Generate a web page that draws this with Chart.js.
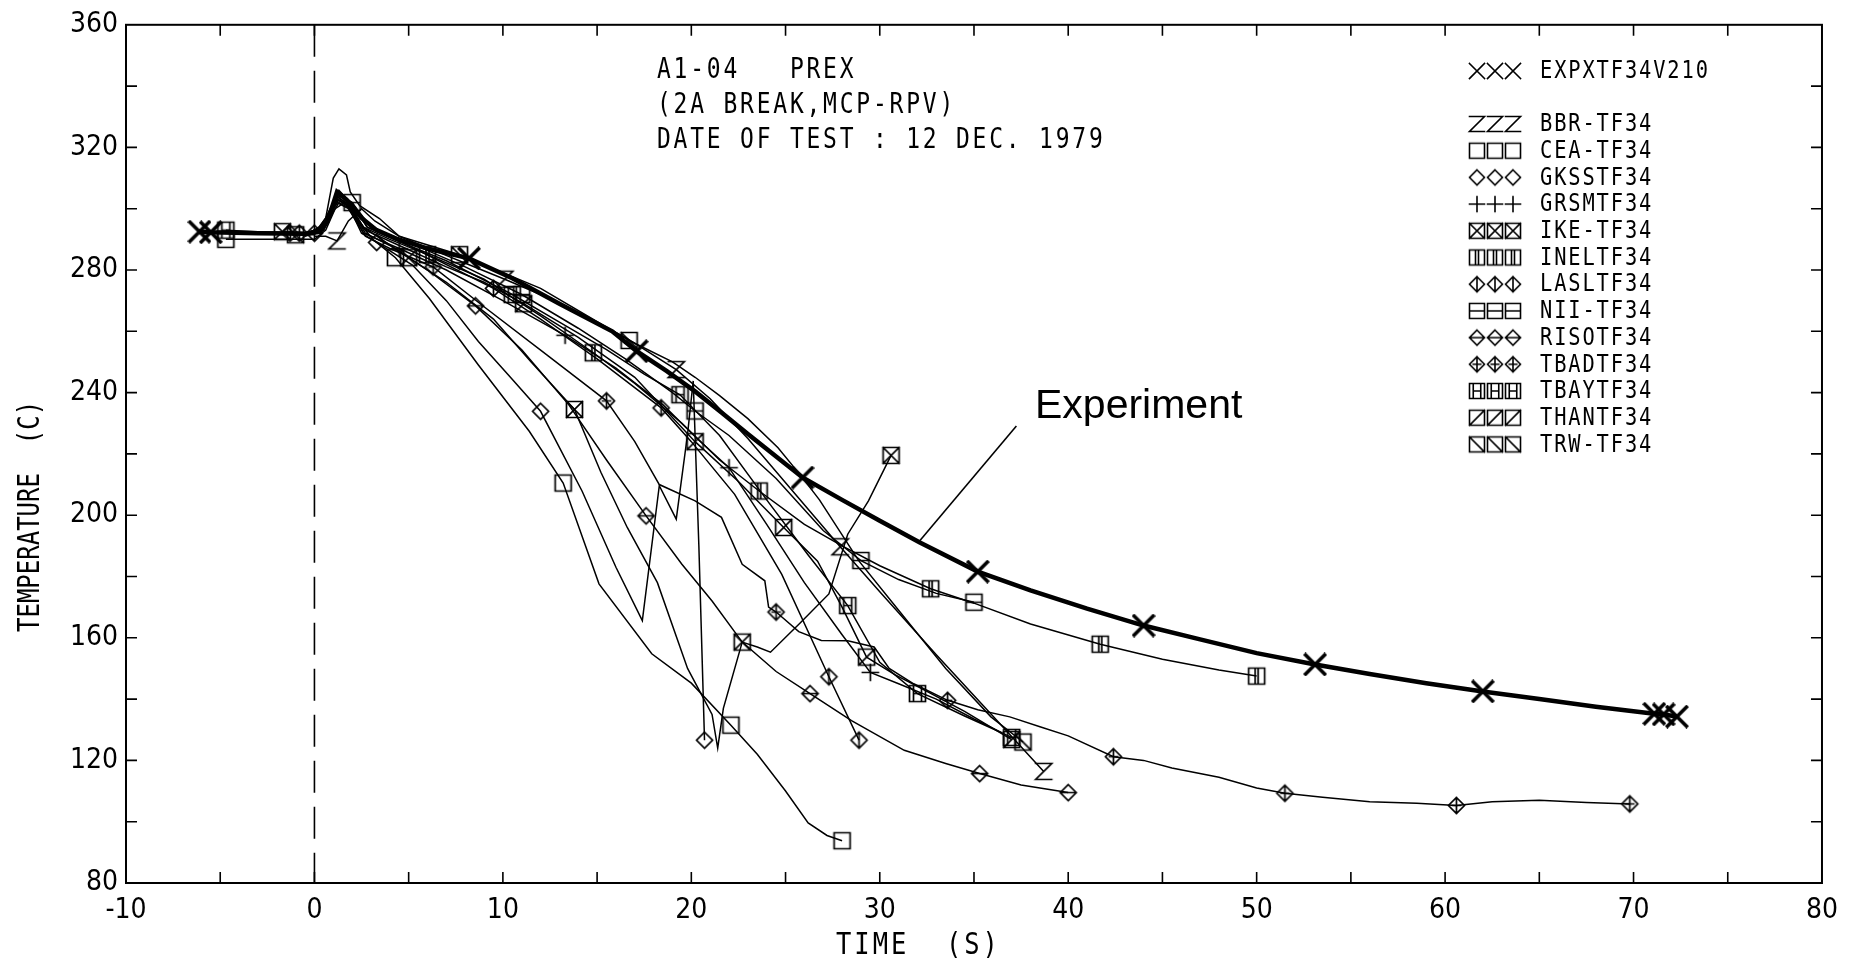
<!DOCTYPE html>
<html><head><meta charset="utf-8">
<script src="https://cdn.jsdelivr.net/npm/chart.js@4.4.1/dist/chart.umd.min.js"></script>
<style>html,body{margin:0;padding:0;background:#fff;overflow:hidden}</style>
</head><body>
<canvas id="c" width="1849" height="967"></canvas>
<script>
// ---- series: [time (s), temperature (C)] ----
const expx = [[-6.1,292.5],[-5.5,292.3],[-3,292],[-0.5,291.8],[0.3,292.5],[0.7,296],[1.2,305.5],[1.7,303],[2.5,297],[3.3,293],[4.3,290.3],[6,287],[8.2,283.8],[10.5,277.3],[13,269],[15.8,260],[17.1,253.5],[18.7,247],[20.2,240.4],[21.6,233.5],[23,226.5],[24.8,217.7],[25.9,212.3],[28,205],[30,198.2],[32.1,191.2],[35.2,181.6],[38,175.5],[41,169.5],[44,164],[47,159.5],[50,155],[53.1,151.3],[56,148.2],[59,145.2],[62,142.5],[65,140],[68,137.5],[71.1,135.2],[71.6,135],[72.3,134.3]];
const expxMarks = [-6.1,-5.5,8.2,17.1,25.9,35.2,44,53.1,62,71.1,71.6,72.3];

const bbr = [[0,291],[0.6,291],[1.2,289.5],[1.8,296],[2.5,300],[3.2,296],[4.5,291],[6.5,286],[8.5,281],[10.1,277],[12,272],[14,266],[16.5,258],[19.2,247.5],[21,238],[23,225],[25.5,207],[27.9,189.7],[30,175],[33,154.5],[36,134.5],[38.7,116.4]];
const bbrMarks = [1.2,10.1,19.2,27.9,38.7];

const cea = [[-4.7,290],[-3,290],[-1,290],[0,290],[0.6,293],[1.1,300],[1.6,302],[2.3,296],[3.1,290],[4.3,284],[6.1,270.7],[8.7,249],[11.4,227.4],[13.2,210.5],[15.1,177.6],[17.9,154.8],[20,145.2],[22.1,131.5],[23.5,122],[25,110],[26.2,99.6],[27.2,95.5],[28,93.8]];
const ceaMarks = [-4.7,4.3,13.2,22.1,28];

const gkss = [[-1.3,292],[0,292],[0.6,296],[1.2,303],[1.8,301],[2.5,292],[3.3,289],[5.2,281.6],[7,270],[8.7,256.7],[10.4,245],[12,233.9],[14.2,207.9],[16,183],[17.4,165.6],[18.3,209.6],[19.2,198.7],[19.8,226.4],[20.1,243.8],[20.4,190],[20.7,126.6]];
const gkssMarks = [-1.3,3.3,12,20.7];

const grsm = [[-0.5,292],[0.5,294],[1.2,302],[1.8,300],[2.6,292],[4.5,287],[7,280],[10,270],[13.3,258.7],[16,248],[18.5,236],[20.3,225],[22,215.5],[24,197],[26,178],[28,161],[29.5,148.7],[31,145],[33,140],[35,133.5],[36.5,129]];
const grsmMarks = [4.5,13.3,22,29.5];

const ike = [[-1.7,292.5],[0,292],[0.6,296],[1.2,304],[1.8,301],[2.6,294],[5,284],[7,276],[9.5,264],[11.5,250],[13.8,234.5],[15.2,214],[16.6,196],[18.2,178],[19.8,150],[21.1,135],[21.4,124],[21.7,137],[22.7,158.6],[23.5,157],[24.2,155.3],[25.8,165],[27.3,174.3],[28.3,193.8],[29.4,204.7],[30.6,219.5]];
const ikeMarks = [-1.7,5,13.8,22.7,30.6];

const inel = [[-0.5,291],[0.5,293],[1.2,303],[1.8,301],[2.6,294],[4,290],[6,285],[9,277],[12,265],[14.8,253],[17,243],[19.5,230],[21.5,218],[23.6,207.9],[26,197],[28,190],[30,183.5],[32.7,176],[35,171.3],[38,164.5],[41.7,157.9],[45,153],[48,149.5],[50,147.5]];
const inelMarks = [6,14.8,23.6,32.7,41.7,50];

const lasl = [[-0.8,292],[0,292],[0.6,297],[1.3,306],[1.9,302],[2.8,294],[5,288],[9.5,274],[12,264],[15,251],[18.4,235],[20,224],[22.3,206.8],[24.8,180.7],[27.3,147.3],[28.9,126.6]];
const laslMarks = [-0.8,9.5,18.4,27.3,28.9];

const nii = [[-0.3,292],[0.5,295],[1.3,304],[2,302],[3,294],[5,289],[8,281],[11,272],[14,261],[16.5,251],[19,240],[20.2,234],[22,226],[24.5,212],[27,195],[29,185.2],[31,179],[33,174.5],[35,171.6]];
const niiMarks = [2,11,20.2,29,35];

const riso = [[0,292],[0.6,295],[1.3,302],[1.9,300],[2.7,292],[4,288],[6,280],[8.55,268.3],[11,254],[13.5,236],[15.5,218],[17.6,199.8],[19.5,184],[21.1,172],[22.7,158.6],[24.5,149],[26.3,141.8],[28.5,133],[31.3,123.3],[33.5,119],[35.3,115.7],[37.5,112],[40,109.5]];
const risoMarks = [0,8.55,17.6,26.3,35.3,40];

const tbad = [[0,292],[0.6,296],[1.3,303],[1.9,300],[2.7,291],[4,287],[6.3,281],[9,268],[12.4,252],[15.5,237.3],[17,224],[18.3,210],[20.2,204.7],[21.6,199.3],[22.7,184],[23.9,178.6],[24.1,170],[24.5,168.4],[25.7,162],[26.9,159.1],[28.3,159],[29.7,157],[30.5,150],[31.8,145],[33.6,139.6],[35.2,136.5],[36.9,134.2],[38.5,131],[40,128],[42.4,121.2],[44,120],[45.5,117.5],[48,114.5],[50,111],[51.5,109.3],[53.5,108],[56,106.5],[58.5,106],[60.6,105.3],[62.5,106.5],[65,107],[67.5,106.3],[69.8,105.8]];
const tbadMarks = [6.3,15.5,24.5,33.6,42.4,51.5,60.6,69.8];

const tbay = [[-4.7,293],[-3,292.5],[-1,292.3],[0,292],[0.6,296],[1.3,305],[2,302],[2.8,294],[5,288],[7,283],[10.5,272],[13,263],[15.5,254],[17.5,246],[19.4,239.3],[21.5,226],[24,205],[26.2,187],[28.3,170.5],[30,152],[32,141.8],[34.5,134.5],[37,127.5]];
const tbayMarks = [-4.7,10.5,19.4,28.3,32,37];

const than = [[-0.5,292],[0.5,294],[1.2,304],[1.9,301],[2.7,293],[4.5,288],[7,281],[9,276],[11.1,269],[14,258],[17,245],[20.2,224],[22.5,211],[24.9,196],[26.7,185],[28,170],[29.3,153.7],[30.8,148],[32.5,142.5],[34.5,136],[37,126.8]];
const thanMarks = [11.1,20.2,24.9,29.3,37];

const trw = [[-1,291.5],[0,291.5],[0.6,297],[1,310],[1.3,313],[1.7,311],[1.9,305.5],[2.4,301],[3.45,296.8],[4.5,291],[7.7,285],[12,274],[16.7,257],[19,250],[20.2,245],[21.5,239],[23,231.5],[24.6,222],[25.8,213],[26.8,205],[28.9,185],[31,169],[33.5,150],[35.9,134.2],[37.6,126]];
const trwMarks = [-1,7.7,16.7,37.6];

const seriesNames = ['EXPXTF34V210','BBR-TF34','CEA-TF34','GKSSTF34','GRSMTF34','IKE-TF34','INELTF34','LASLTF34','NII-TF34','RISOTF34','TBADTF34','TBAYTF34','THANTF34','TRW-TF34'];
const seriesData  = [expx,bbr,cea,gkss,grsm,ike,inel,lasl,nii,riso,tbad,tbay,than,trw];
const seriesMarks = [expxMarks,bbrMarks,ceaMarks,gkssMarks,grsmMarks,ikeMarks,inelMarks,laslMarks,niiMarks,risoMarks,tbadMarks,tbayMarks,thanMarks,trwMarks];

const xTickLabels = [-10,0,10,20,30,40,50,60,70,80];
const yTickLabels = [80,120,160,200,240,280,320,360];
const titleLines = ['A1-04   PREX','(2A BREAK,MCP-RPV)','DATE OF TEST : 12 DEC. 1979'];

// ---- plotter style marker glyphs ----
function glyph(draw, lw, size) {
  const c = document.createElement('canvas');
  c.width = size; c.height = size;
  const g = c.getContext('2d');
  g.strokeStyle = '#000'; g.lineWidth = lw; g.lineCap = 'square';
  g.translate(size / 2, size / 2);
  g.beginPath(); draw(g, size / 2 - 2.5); g.stroke();
  return c;
}
const sq = (g,h)=>g.rect(-h,-h,2*h,2*h);
const dm = (g,h)=>{g.moveTo(0,-h);g.lineTo(h,0);g.lineTo(0,h);g.lineTo(-h,0);g.closePath();};
const shapes = [
  (g,h)=>{g.moveTo(-h,-h);g.lineTo(h,h);g.moveTo(h,-h);g.lineTo(-h,h);},
  (g,h)=>{g.moveTo(-h,-h);g.lineTo(h,-h);g.lineTo(-h,h);g.lineTo(h,h);},
  (g,h)=>{sq(g,h);},
  (g,h)=>{dm(g,h);},
  (g,h)=>{g.moveTo(-h,0);g.lineTo(h,0);g.moveTo(0,-h);g.lineTo(0,h);},
  (g,h)=>{sq(g,h);g.moveTo(-h,-h);g.lineTo(h,h);g.moveTo(h,-h);g.lineTo(-h,h);},
  (g,h)=>{sq(g,h);g.moveTo(-1.5,-h);g.lineTo(-1.5,h);g.moveTo(1.5,-h);g.lineTo(1.5,h);},
  (g,h)=>{dm(g,h);g.moveTo(0,-h);g.lineTo(0,h);},
  (g,h)=>{sq(g,h);g.moveTo(-h,0);g.lineTo(h,0);},
  (g,h)=>{dm(g,h);g.moveTo(-h,0);g.lineTo(h,0);},
  (g,h)=>{dm(g,h);g.moveTo(0,-h);g.lineTo(0,h);g.moveTo(-h/2,0);g.lineTo(h/2,0);},
  (g,h)=>{sq(g,h);g.moveTo(-h/2,-h);g.lineTo(-h/2,h);g.moveTo(h/2,-h);g.lineTo(h/2,h);g.moveTo(-h/2,0);g.lineTo(h/2,0);},
  (g,h)=>{sq(g,h);g.moveTo(-h,h);g.lineTo(h,-h);},
  (g,h)=>{sq(g,h);g.moveTo(-h,-h);g.lineTo(h,h);}
];
const plotGlyphs = shapes.map((s,i)=> i===0 ? glyph(s,3.6,24) : glyph(s,1.7,21));
const legendGlyphs = shapes.map(s=> glyph(s,1.6,20));

const monoFont = '"DejaVu Sans Mono", monospace';
const tickFamily = '"DejaVu Sans Condensed", "Liberation Sans Narrow", "DejaVu Sans", sans-serif';

// plotter lettering: tall, narrow, evenly spaced
function letter(ctx, text, x, y, size, sx, spacing) {
  ctx.save();
  ctx.translate(x, y);
  ctx.scale(sx, 1);
  ctx.font = size + 'px ' + monoFont;
  ctx.letterSpacing = spacing + 'px';
  ctx.fillText(text, 0, 0);
  ctx.restore();
}

const datasets = seriesData.map((d,i)=>({
  label: seriesNames[i],
  data: d.map(p=>({x:p[0], y:p[1]})),
  borderColor: '#000',
  borderWidth: i===0 ? 4.5 : 1.5,
  pointStyle: plotGlyphs[i],
  pointRadius: ctx => (seriesMarks[i].includes(ctx.raw.x) ? 8 : 0),
  pointHoverRadius: 0,
  tension: 0,
  fill: false
}));

// axes frame, inward ticks, zero line and the text annotations
const frame = {
  id: 'frame',
  beforeDatasetsDraw(chart) {
    const {ctx, chartArea: a, scales: {x}} = chart;
    const x0 = x.getPixelForValue(0);
    ctx.save();
    ctx.strokeStyle = '#000'; ctx.lineWidth = 1.6;
    ctx.setLineDash([32,14]);
    ctx.beginPath(); ctx.moveTo(x0, a.top); ctx.lineTo(x0, a.bottom); ctx.stroke();
    ctx.restore();
  },
  afterDraw(chart) {
    const {ctx, chartArea: a, scales: {x, y}} = chart;
    ctx.save();
    ctx.strokeStyle = '#000'; ctx.fillStyle = '#000';
    ctx.lineWidth = 2;
    ctx.strokeRect(a.left, a.top, a.right - a.left, a.bottom - a.top);
    ctx.lineWidth = 1.6;
    ctx.beginPath();
    x.ticks.forEach(t=>{
      const px = x.getPixelForValue(t.value);
      if (t.value <= x.min || t.value >= x.max) return;
      ctx.moveTo(px, a.bottom); ctx.lineTo(px, a.bottom - 11);
      ctx.moveTo(px, a.top); ctx.lineTo(px, a.top + 11);
    });
    y.ticks.forEach(t=>{
      const py = y.getPixelForValue(t.value);
      if (t.value <= y.min || t.value >= y.max) return;
      ctx.moveTo(a.left, py); ctx.lineTo(a.left + 11, py);
      ctx.moveTo(a.right, py); ctx.lineTo(a.right - 11, py);
    });
    ctx.stroke();

    // axis titles
    ctx.textBaseline = 'middle';
    ctx.textAlign = 'left';
    letter(ctx, 'TIME  (S)', 836, 946, 30, 0.85, 3.5);
    ctx.save();
    ctx.translate(31, 632); ctx.rotate(-Math.PI/2);
    letter(ctx, 'TEMPERATURE  (C)', 0, 0, 30, 0.8, 0);
    ctx.restore();

    // test identification block
    titleLines.forEach((s,i)=> letter(ctx, s, 657, 71 + i*35, 28, 0.82, 3.4));

    // legend
    seriesNames.forEach((name,i)=>{
      const cy = i===0 ? 71 : 124 + (i-1)*26.7;
      const gl = legendGlyphs[i];
      for (let k=0;k<3;k++) ctx.drawImage(gl, 1477 + k*18 - gl.width/2, cy - gl.height/2);
      letter(ctx, name, 1540, cy + 1, 24, 0.85, 2.2);
    });

    // experiment call-out
    ctx.letterSpacing = '0px';
    ctx.font = '41px "Liberation Sans", Arial, sans-serif';
    ctx.textBaseline = 'alphabetic';
    ctx.fillText('Experiment', 1035, 418);
    ctx.lineWidth = 1.6;
    ctx.beginPath();
    ctx.moveTo(x.getPixelForValue(37.25), y.getPixelForValue(229.1));
    ctx.lineTo(x.getPixelForValue(32.1), y.getPixelForValue(191.5));
    ctx.stroke();
    ctx.restore();
  }
};

new Chart(document.getElementById('c'), {
  type: 'line',
  data: { datasets },
  options: {
    responsive: false,
    animation: false,
    devicePixelRatio: 1,
    events: [],
    layout: { padding: { top: 22, right: 21, left: 0, bottom: 0 } },
    plugins: { legend: { display: false }, tooltip: { enabled: false } },
    scales: {
      x: {
        type: 'linear', min: -10, max: 80,
        grid: { display: false, drawTicks: false },
        border: { display: false },
        ticks: {
          stepSize: 5, autoSkip: false, maxRotation: 0, padding: 11, color: '#000',
          font: { family: tickFamily, size: 28 },
          callback: v => (xTickLabels.includes(v) ? String(v) : '')
        },
        afterFit: s => { s.height = 84; }
      },
      y: {
        min: 80, max: 360,
        grid: { display: false, drawTicks: false },
        border: { display: false },
        ticks: {
          stepSize: 20, autoSkip: false, padding: 8, color: '#000',
          font: { family: tickFamily, size: 28 },
          callback: v => (yTickLabels.includes(v) ? String(v) : '')
        },
        afterFit: s => { s.width = 126; }
      }
    }
  },
  plugins: [frame]
});
</script>
</body></html>
